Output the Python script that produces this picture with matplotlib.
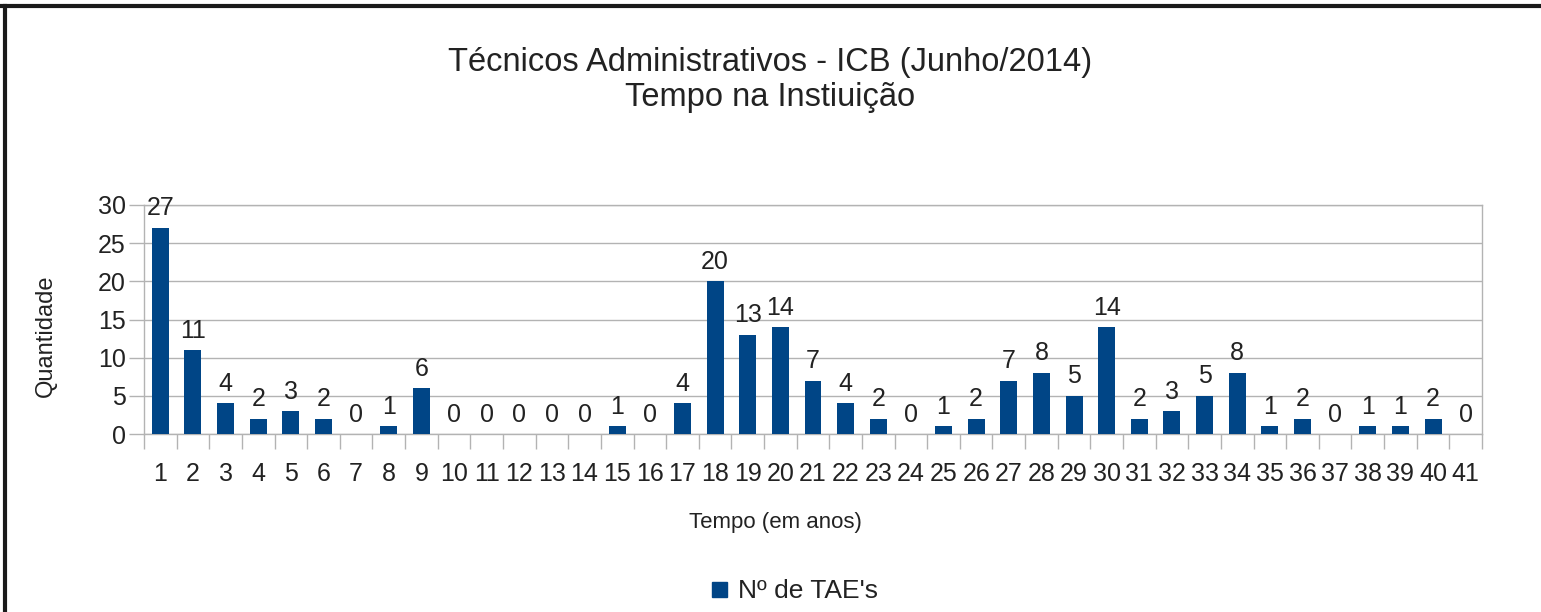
import matplotlib
matplotlib.use("Agg")
import matplotlib.pyplot as plt
from matplotlib.lines import Line2D
import numpy as np

# Dados
anos = list(range(1, 42))
quantidade = [27, 11, 4, 2, 3, 2, 0, 1, 6, 0,
              0, 0, 0, 0, 1, 0, 4, 20, 13, 14,
              7, 4, 2, 0, 1, 2, 7, 8, 5, 14,
              2, 3, 5, 8, 1, 2, 0, 1, 1, 2,
              0]
titulo_1 = "Técnicos Administrativos - ICB (Junho/2014)"
titulo_2 = "Tempo na Instiuição"
serie = "Nº de TAE's"

plt.rcParams['font.family'] = ['Liberation Sans', 'DejaVu Sans']
cor = "#004586"
cinza = "#b3b3b3"
texto = "#222222"

W, H = 1541, 612
fig = plt.figure(figsize=(W / 100, H / 100), dpi=100)
ax = fig.add_axes([144 / W, 1 - 434 / H, (1482 - 144) / W, (434 - 205) / H])

x = np.array(anos)
ax.bar(x, quantidade, width=0.52, color=cor, zorder=3)

for xi, q in zip(x, quantidade):
    ax.annotate(str(q), (xi, q), xytext=(0, 9), textcoords="offset points",
                ha="center", va="baseline", fontsize=18, color=texto)

ax.set_xlim(0.5, len(anos) + 0.5)
ax.set_ylim(0, 30)
ax.set_yticks(range(0, 31, 5))
ax.grid(axis="y", color=cinza, linewidth=1, zorder=0)

# ticks entre as categorias, rótulos no centro
ax.set_xticks(np.arange(0.5, len(anos) + 1, 1))
ax.set_xticklabels([])
ax.set_xticks(x, minor=True)
ax.set_xticklabels([str(a) for a in anos], minor=True)
ax.tick_params(axis="x", which="major", length=11, color=cinza, width=1)
ax.tick_params(axis="x", which="minor", length=0, pad=20, labelsize=18, labelcolor=texto)
ax.tick_params(axis="y", length=11, color=cinza, width=1, pad=2, labelsize=18, labelcolor=texto)

for s in ax.spines.values():
    s.set_color(cinza)
    s.set_linewidth(1)

# rótulos dos eixos e título
fig.text(46 / W, 1 - 336 / H, "Quantidade", rotation=90, ha="center", va="center",
         fontsize=17, color=texto)
fig.text(775 / W, 1 - 528 / H, "Tempo (em anos)", ha="center", va="baseline",
         fontsize=16, color=texto)
fig.text(770 / W, 1 - 71 / H, titulo_1, ha="center", va="baseline", fontsize=23.5, color=texto)
fig.text(770 / W, 1 - 106 / H, titulo_2, ha="center", va="baseline", fontsize=23.5, color=texto)

leg_handle = Line2D([], [], marker="s", linestyle="", markersize=10.8, color=cor)
fig.legend([leg_handle], [serie], loc="center", bbox_to_anchor=(792 / W, 1 - 591 / H),
           frameon=False, fontsize=19, handletextpad=0.2, handlelength=1.0,
           labelcolor=texto, borderpad=0)

# moldura superior e esquerda
fig.add_artist(Line2D([0, 1], [1 - 6 / H, 1 - 6 / H], color="#1a1a1a", linewidth=3,
                      transform=fig.transFigure))
fig.add_artist(Line2D([5 / W, 5 / W], [0, 1 - 6 / H], color="#1a1a1a", linewidth=3,
                      transform=fig.transFigure))

fig.savefig("out.png", dpi=100)
